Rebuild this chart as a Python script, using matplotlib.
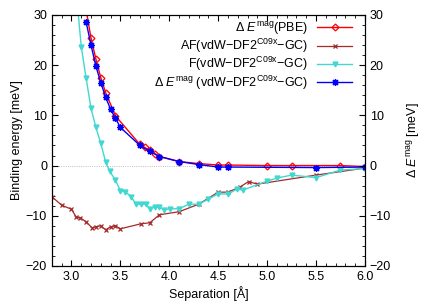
import matplotlib
matplotlib.use('Agg')
import matplotlib.pyplot as plt
from matplotlib.ticker import MultipleLocator

plt.rcParams['font.family'] = ['Liberation Sans', 'DejaVu Sans']
plt.rcParams['font.size'] = 9
plt.rcParams['mathtext.fontset'] = 'custom'
plt.rcParams['mathtext.rm'] = 'Liberation Sans'
plt.rcParams['mathtext.it'] = 'Liberation Sans:italic'

# dE mag (PBE)
pbe_x = [3.15, 3.20, 3.25, 3.30, 3.35, 3.45, 3.70, 3.75, 3.80, 3.85, 3.90, 4.10, 4.30, 4.50, 4.60, 5.00, 5.25, 5.75, 6.00]
pbe_y = [31.0, 25.4, 21.2, 17.5, 14.5, 9.9, 4.2, 3.6, 3.0, 2.4, 1.8, 0.8, 0.4, 0.1, 0.1, 0.0, 0.0, 0.0, -0.2]

# AF (vdW-DF2 C09x - GC)
af_x = [2.80, 2.90, 3.00, 3.05, 3.09, 3.15, 3.21, 3.25, 3.30, 3.35, 3.40, 3.45, 3.50, 3.71, 3.80, 3.90, 4.10, 4.30, 4.50, 4.60, 4.72, 4.81, 4.90, 5.50, 6.00]
af_y = [-6.2, -7.9, -8.7, -10.3, -10.4, -11.2, -12.4, -12.2, -12.0, -12.8, -12.2, -12.0, -12.6, -11.6, -11.4, -9.8, -9.2, -7.7, -5.3, -5.3, -4.3, -3.2, -3.7, -1.9, -0.5]

# F (vdW-DF2 C09x - GC)
f_x = [3.00, 3.10, 3.15, 3.20, 3.25, 3.30, 3.35, 3.39, 3.45, 3.50, 3.55, 3.61, 3.66, 3.71, 3.76, 3.80, 3.85, 3.90, 3.95, 4.01, 4.10, 4.20, 4.30, 4.40, 4.50, 4.60, 4.69, 4.75, 5.00, 5.10, 5.25, 5.50, 5.75, 6.00]
f_y = [45.0, 23.7, 17.4, 11.4, 7.6, 4.4, 0.7, -1.1, -2.9, -5.0, -5.2, -6.2, -7.7, -7.7, -7.7, -8.6, -8.3, -8.3, -8.8, -8.6, -8.6, -7.7, -7.7, -6.7, -5.6, -5.7, -4.7, -4.9, -3.1, -2.5, -1.9, -2.4, -0.9, -0.6]

# dE mag (vdW-DF2 C09x - GC)
mag_x = [3.15, 3.20, 3.25, 3.30, 3.35, 3.40, 3.45, 3.50, 3.70, 3.80, 3.90, 4.10, 4.30, 4.50, 4.60, 5.50, 6.00]
mag_y = [28.6, 24.0, 19.8, 16.5, 13.6, 11.2, 9.4, 7.6, 4.0, 2.8, 1.8, 0.8, 0.2, -0.3, -0.3, -0.4, -0.3]

fig = plt.figure(figsize=(4.36, 3.05), dpi=100)
ax = fig.add_axes([0.119, 0.128, 0.718, 0.823])

ax.axhline(0, color='#aaaaaa', lw=0.6, ls=':', zorder=0)

lbl = r'(vdW$-$DF2$^{\mathrm{C09x}}$$-$GC)'
ax.plot(pbe_x, pbe_y, color='#ff0000', lw=1.0, marker='D', ms=3.5, mfc='none', mew=0.9,
        label=r'$\Delta\ E^{\mathrm{mag}}$(PBE)')
ax.plot(af_x, af_y, color='#a52a2a', lw=0.9, marker='x', ms=3.5, mew=0.9,
        label='AF' + lbl)
ax.plot(f_x, f_y, color='#40d8d0', lw=1.0, marker='v', ms=3.5,
        label='F' + lbl)
ax.plot(mag_x, mag_y, color='#0000ff', lw=1.0, marker=(8, 2, 0), ms=5, mew=0.9,
        label=r'$\Delta\ E^{\mathrm{mag}}$ ' + lbl)

ax.set_xlim(2.8, 6.0)
ax.set_ylim(-20, 30)
ax.xaxis.set_major_locator(MultipleLocator(0.5))
ax.xaxis.set_minor_locator(MultipleLocator(0.1))
ax.yaxis.set_major_locator(MultipleLocator(10))
ax.yaxis.set_minor_locator(MultipleLocator(2))
ax.xaxis.set_major_formatter(plt.FormatStrFormatter('%.1f'))
ax.tick_params(which='both', direction='in', top=True, right=False)
ax.tick_params(which='major', length=4)
ax.tick_params(which='minor', length=2)
ax.set_xlabel('Separation [Å]', labelpad=2)
ax.set_ylabel('Binding energy [meV]', labelpad=2)

ax2 = ax.twinx()
ax2.set_ylim(-20, 30)
ax2.yaxis.set_major_locator(MultipleLocator(10))
ax2.yaxis.set_minor_locator(MultipleLocator(2))
ax2.tick_params(which='both', direction='in')
ax2.tick_params(which='major', length=4)
ax2.tick_params(which='minor', length=2)
ax2.set_ylabel(r'$\Delta\ E^{\mathrm{mag}}$ [meV]', labelpad=10)

leg = ax.legend(loc='upper right', bbox_to_anchor=(0.975, 1.0), frameon=False,
                markerfirst=False, handlelength=2.8, borderaxespad=0.0,
                labelspacing=0.0, handletextpad=0.7, fontsize=9)
for t in leg.get_texts():
    t.set_ha('right')
leg._legend_box.align = 'right'

fig.savefig('out.png', dpi=100)
